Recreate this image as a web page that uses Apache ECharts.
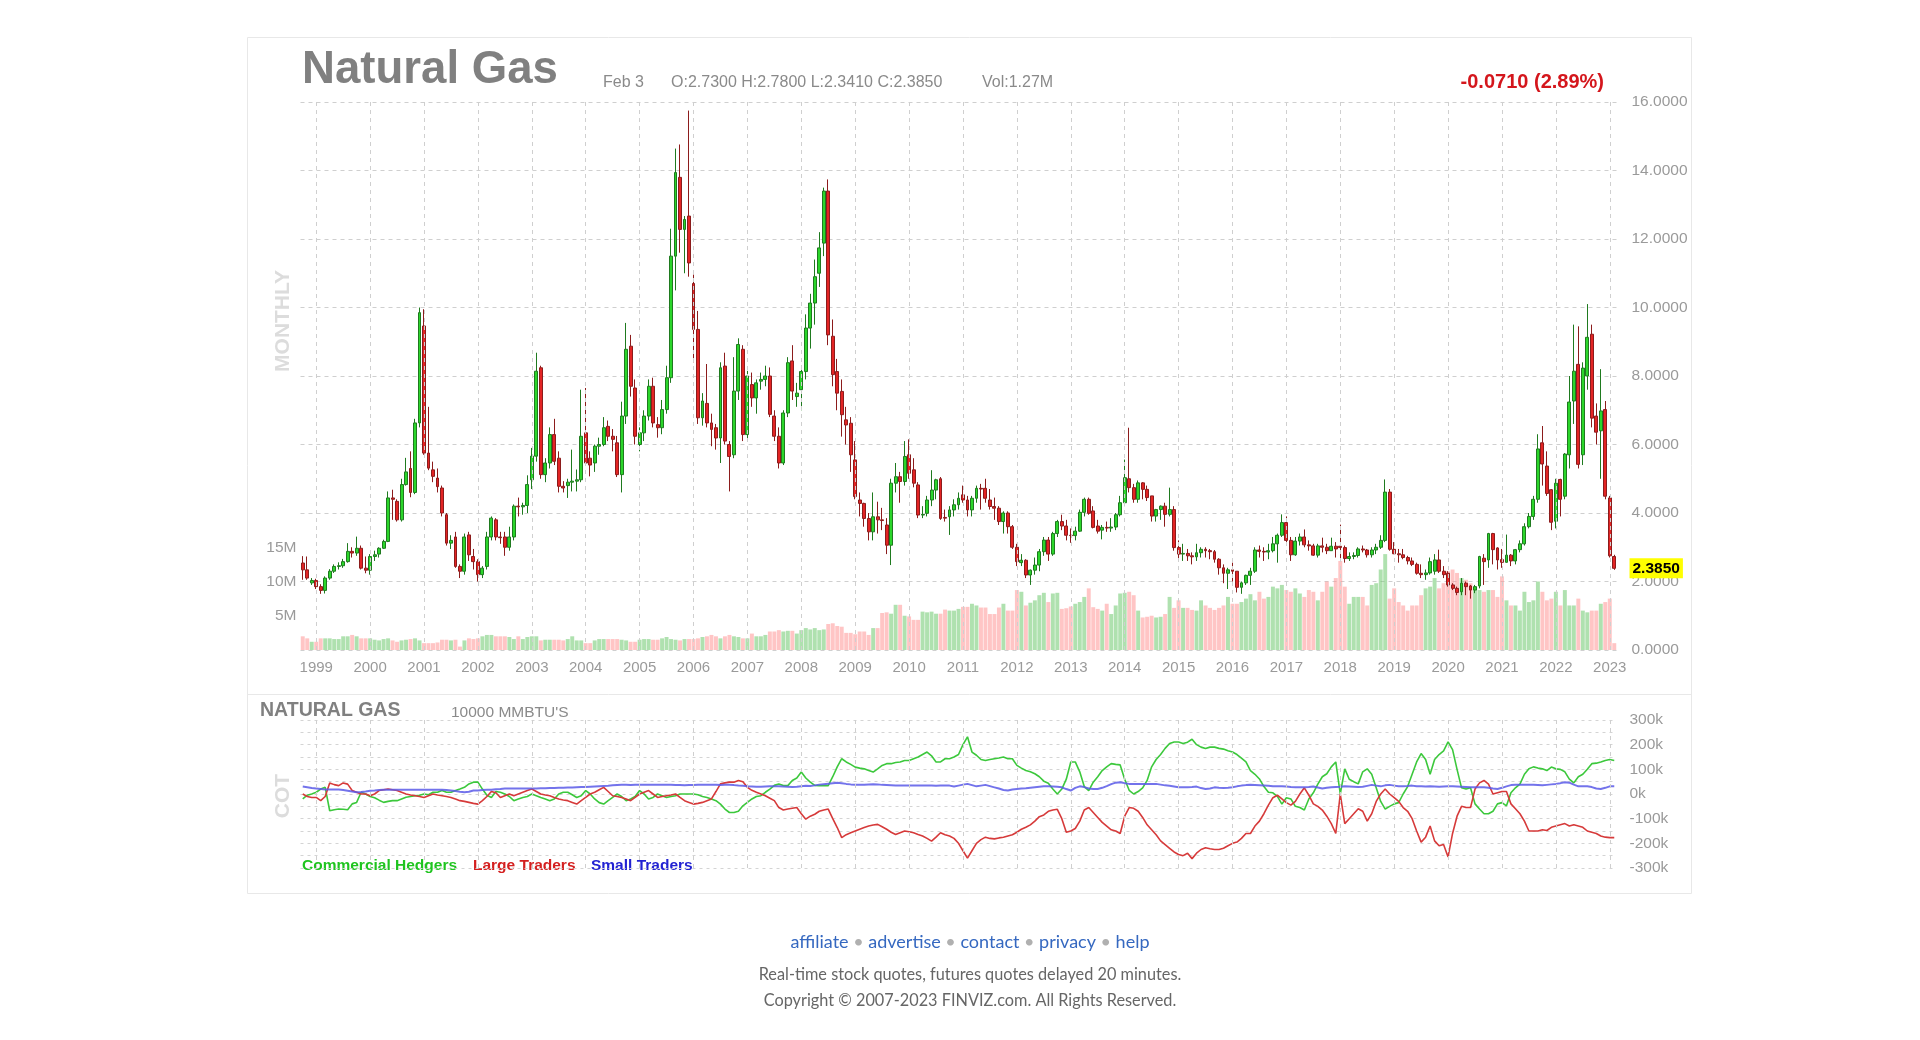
<!DOCTYPE html>
<html>
<head>
<meta charset="utf-8">
<script src="https://cdn.jsdelivr.net/npm/echarts@6/dist/echarts.min.js"></script>
<style>
html,body{margin:0;padding:0;background:#fff;}
#c{width:1920px;height:1040px;}
</style>
</head>
<body>
<div id="c"></div>
<script>
// ---------- DATA ----------
// monthly candles Oct 1998 .. Feb 2023 : [open, close, low, high]
const ohlc = [
// 1998 Oct-Dec
[2.54,2.34,2.05,2.74],[2.34,2.10,2.05,2.73],[1.96,2.03,1.90,2.10],
// 1999
[2.03,1.85,1.78,2.08],[1.85,1.74,1.64,1.92],[1.74,2.10,1.65,2.15],[2.10,2.30,2.05,2.36],[2.30,2.44,2.25,2.50],[2.44,2.46,2.35,2.56],
[2.46,2.58,2.40,2.66],[2.58,2.88,2.55,3.12],[2.88,2.83,2.70,3.00],[2.83,2.97,2.75,3.31],[2.97,2.39,2.35,3.05],[2.39,2.33,2.24,2.73],
// 2000
[2.33,2.73,2.20,2.80],[2.73,2.78,2.60,2.90],[2.80,2.97,2.70,3.00],[2.97,3.17,2.95,3.22],[3.17,4.44,3.15,4.63],[4.44,4.40,3.80,4.68],
[4.34,3.80,3.75,4.40],[3.80,4.83,3.75,5.00],[4.83,5.20,4.80,5.61],[5.30,4.60,4.46,5.80],[4.60,6.63,4.55,6.75],[6.63,9.85,6.50,10.00],
// 2001
[9.46,5.75,5.70,9.95],[5.75,5.31,5.25,7.10],[5.26,5.07,4.90,5.50],[5.02,4.77,4.60,5.30],[4.73,4.00,3.90,4.80],[3.95,3.12,3.05,4.00],
[3.12,3.20,2.95,3.35],[3.30,2.44,2.40,3.45],[2.44,2.30,2.10,2.50],[2.30,3.30,2.20,3.40],[3.36,2.78,2.60,3.45],[2.73,2.58,2.35,2.95],
// 2002
[2.58,2.20,2.00,2.65],[2.20,2.39,2.10,2.45],[2.44,3.30,2.35,3.45],[3.30,3.85,3.20,3.90],[3.80,3.30,3.20,3.85],[3.30,3.28,3.10,3.45],
[3.30,3.00,2.75,3.45],[3.00,3.30,2.90,3.60],[3.30,4.20,3.20,4.25],[4.20,4.18,3.90,4.45],[4.18,4.22,3.95,4.30],[4.22,4.83,4.00,5.10],
// 2003
[4.97,5.66,4.70,5.90],[5.66,8.14,5.50,8.68],[8.24,5.12,5.00,8.30],[5.12,5.46,4.90,5.60],[5.46,6.29,5.30,6.50],[6.29,5.51,5.40,6.75],
[5.60,4.78,4.60,5.80],[4.78,4.73,4.60,4.93],[4.80,4.90,4.44,5.00],[4.90,4.93,4.63,5.85],[4.93,4.97,4.63,5.27],[4.97,6.24,4.90,7.60],
// 2004
[6.34,5.46,5.40,7.65],[5.60,5.40,5.07,5.80],[5.46,5.95,5.20,6.00],[5.95,6.00,5.70,6.20],[6.00,6.49,5.95,6.80],[6.53,6.24,6.10,6.70],
[6.24,6.15,5.80,6.45],[6.05,5.12,5.05,6.25],[5.12,6.83,4.60,7.25],[6.83,8.78,6.60,9.55],[8.87,7.70,7.40,9.20],[7.65,6.24,6.00,7.90],
// 2005
[6.00,6.34,5.80,6.50],[6.34,6.83,6.10,7.00],[6.83,7.70,6.70,7.90],[7.70,6.63,6.50,7.95],[6.58,6.49,6.20,6.80],[6.49,7.02,6.30,7.30],
[7.02,7.95,6.90,8.30],[7.95,11.50,7.80,12.30],[11.50,13.94,10.50,14.64],[13.80,12.28,11.60,14.76],[12.28,12.57,11.00,12.67],[12.67,11.30,10.90,15.75],
// 2006
[10.70,9.36,8.40,10.96],[9.36,6.78,6.60,9.90],[6.78,7.27,6.55,7.50],[7.20,6.63,6.50,8.35],[6.63,6.44,5.95,6.90],[6.49,6.19,5.85,6.60],
[6.19,8.24,5.46,8.40],[8.29,6.10,6.00,8.68],[6.00,5.65,4.63,6.10],[5.70,7.56,5.60,8.55],[7.56,8.92,7.30,9.10],[8.78,6.29,6.10,8.90],
// 2007
[6.29,8.00,6.10,8.15],[7.75,7.36,7.10,8.10],[7.36,7.80,6.90,7.90],[7.85,7.90,7.60,8.10],[7.90,8.00,7.70,8.30],[8.00,6.88,6.80,8.25],
[6.83,6.24,6.10,7.00],[6.24,5.46,5.30,6.50],[5.46,6.92,5.40,7.00],[6.92,8.39,6.80,8.55],[8.44,7.56,7.30,8.90],[7.40,7.50,7.10,7.80],
// 2008
[7.60,8.13,7.00,8.30],[8.13,9.40,7.90,9.80],[9.40,10.13,8.80,10.40],[10.13,10.90,9.50,11.40],[11.00,11.74,10.60,12.20],[11.88,13.40,11.50,13.50],
[13.40,9.20,8.90,13.74],[9.16,8.04,7.70,9.65],[8.13,7.50,7.00,8.50],[7.55,6.87,6.23,7.90],[6.72,6.57,6.00,7.10],[6.62,5.70,5.20,6.80],
// 2009
[5.55,4.48,4.40,6.10],[4.38,4.28,3.90,4.60],[4.28,3.84,3.60,4.30],[3.84,3.45,3.20,4.00],[3.45,3.89,3.20,4.60],[3.89,3.80,3.40,4.33],
[3.80,3.78,3.50,4.15],[3.65,3.06,2.80,3.85],[3.06,4.87,2.48,5.00],[4.87,5.06,4.60,5.46],[5.06,4.92,4.30,5.20],[4.92,5.65,4.80,6.10],
// 2010
[5.70,5.16,5.00,6.15],[5.26,4.87,4.75,5.60],[4.82,3.94,3.85,4.90],[3.94,3.96,3.85,4.20],[3.99,4.38,3.90,4.50],[4.38,4.67,4.20,5.25],
[4.67,4.97,4.40,5.00],[5.00,3.84,3.80,5.05],[3.87,3.85,3.75,4.10],[3.89,4.09,3.36,4.20],[4.09,4.24,3.90,4.40],[4.24,4.43,4.10,4.60],
// 2011
[4.53,4.38,4.30,4.80],[4.38,4.09,3.90,4.50],[4.09,4.43,3.90,4.50],[4.43,4.72,4.30,4.80],[4.72,4.70,4.10,4.85],[4.72,4.43,4.30,5.00],
[4.38,4.19,4.10,4.70],[4.19,4.14,3.80,4.45],[4.14,3.75,3.65,4.20],[3.75,4.00,3.40,4.05],[4.00,3.60,3.40,4.05],[3.60,3.00,2.95,3.65],
// 2012
[3.00,2.58,2.45,3.10],[2.55,2.62,2.45,2.80],[2.62,2.19,2.10,2.65],[2.19,2.33,1.90,2.35],[2.33,2.48,2.20,2.70],[2.48,2.87,2.30,2.95],
[2.87,3.21,2.75,3.30],[3.21,2.80,2.60,3.30],[2.80,3.40,2.75,3.45],[3.40,3.75,3.30,3.80],[3.75,3.62,3.50,3.95],[3.62,3.35,3.20,3.80],
// 2013
[3.35,3.34,3.13,3.55],[3.34,3.47,3.20,3.60],[3.47,4.02,3.45,4.10],[4.02,4.40,3.90,4.45],[4.40,3.99,3.95,4.45],[4.06,3.58,3.55,4.20],
[3.62,3.47,3.40,3.80],[3.50,3.58,3.23,3.65],[3.58,3.56,3.45,3.75],[3.56,3.59,3.45,3.85],[3.59,3.95,3.50,4.00],[3.95,4.30,3.90,4.50],
// 2014
[4.30,5.03,4.20,5.56],[5.00,4.74,4.60,6.49],[4.74,4.40,4.30,4.85],[4.40,4.88,4.30,4.95],[4.88,4.69,4.40,4.90],[4.69,4.45,4.35,4.80],
[4.50,3.91,3.75,4.50],[3.91,4.10,3.75,4.12],[4.10,4.20,3.80,4.22],[4.20,3.96,3.60,4.30],[3.96,4.10,3.90,4.74],[4.10,2.99,2.90,4.20],
// 2015
[2.99,2.80,2.60,3.20],[2.80,2.82,2.60,3.10],[2.82,2.75,2.60,2.95],[2.75,2.72,2.50,2.85],[2.72,2.84,2.60,3.10],[2.84,2.94,2.70,3.00],
[2.94,2.90,2.70,3.00],[2.90,2.87,2.65,2.95],[2.87,2.65,2.55,2.92],[2.65,2.40,2.20,2.68],[2.40,2.24,1.95,2.50],[2.24,2.34,1.78,2.40],
// 2016
[2.34,2.30,2.00,2.55],[2.30,1.83,1.68,2.30],[1.83,1.96,1.64,2.00],[1.96,2.18,1.90,2.20],[2.18,2.30,1.90,2.40],[2.30,2.92,2.25,3.00],
[2.92,2.88,2.70,3.05],[2.88,2.86,2.60,3.00],[2.86,2.90,2.65,3.10],[2.90,3.10,2.85,3.30],[3.10,3.35,2.55,3.40],[3.35,3.72,3.30,3.96],
// 2017
[3.72,3.20,3.15,3.90],[3.20,2.78,2.60,3.30],[2.78,3.18,2.75,3.30],[3.18,3.30,3.05,3.40],[3.30,3.07,3.00,3.52],[3.07,3.04,2.90,3.20],
[3.04,2.77,2.75,3.10],[2.77,3.04,2.70,3.10],[3.04,3.00,2.85,3.28],[3.00,2.90,2.80,3.10],[2.90,3.03,2.90,3.28],[3.03,2.95,2.70,3.15],
// 2018
[3.03,2.99,2.60,3.66],[2.99,2.67,2.55,3.05],[2.67,2.73,2.60,2.85],[2.73,2.76,2.65,2.85],[2.76,2.95,2.70,3.00],[2.95,2.92,2.85,3.05],
[2.92,2.78,2.70,2.95],[2.78,2.92,2.70,3.00],[2.92,3.00,2.80,3.10],[3.00,3.20,2.95,3.35],[3.20,4.61,3.15,4.98],[4.61,2.94,2.90,4.70],
// 2019
[2.94,2.81,2.80,3.15],[2.81,2.78,2.55,2.95],[2.78,2.70,2.65,2.95],[2.70,2.60,2.50,2.75],[2.60,2.50,2.45,2.70],[2.50,2.24,2.20,2.55],
[2.24,2.20,2.10,2.50],[2.20,2.25,2.05,2.35],[2.25,2.58,2.20,2.70],[2.30,2.63,2.20,2.80],[2.63,2.30,2.25,2.93],[2.30,2.20,2.10,2.45],
// 2020
[2.24,1.90,1.85,2.30],[1.90,1.80,1.75,1.95],[1.80,1.68,1.60,1.85],[1.70,1.95,1.60,2.10],[1.95,1.85,1.60,2.00],[1.87,1.75,1.50,1.90],
[1.75,1.85,1.66,1.90],[1.87,2.73,1.80,2.75],[2.68,2.58,1.90,2.80],[2.63,3.40,2.40,3.42],[3.40,2.93,2.50,3.42],[2.98,2.63,2.35,3.00],
// 2021
[2.64,2.56,2.40,2.95],[2.56,2.77,2.55,3.37],[2.77,2.60,2.45,2.80],[2.60,2.93,2.50,2.95],[2.93,3.10,2.85,3.20],[3.10,3.60,3.05,3.70],
[3.60,3.90,3.55,4.00],[3.90,4.40,3.80,4.50],[4.40,5.87,4.30,6.30],[6.05,5.43,4.80,6.54],[5.37,4.57,4.50,5.80],[4.68,3.73,3.50,4.70],
// 2022
[3.76,4.87,3.55,5.00],[4.98,4.40,3.90,5.00],[4.49,5.72,4.40,5.75],[5.70,7.24,5.30,8.00],[7.27,8.14,6.60,9.50],[8.34,5.42,5.30,9.45],
[5.70,8.23,5.40,8.40],[8.00,9.13,7.60,10.10],[9.22,6.77,6.50,9.50],[6.83,6.36,6.00,7.20],[6.40,6.98,5.00,8.20],[7.02,4.49,4.40,7.27],
// 2023 Jan-Feb
[4.44,2.75,2.70,4.50],[2.73,2.385,2.341,2.78]
];

// monthly volume, millions of contracts
const volume = [
2.0,1.7,1.2,
1.2,1.7,1.7,1.7,1.6,1.6,2.0,2.0,2.2,2.0,1.7,1.7,
1.7,1.5,1.4,1.6,1.7,1.4,1.2,1.4,1.5,1.6,1.7,1.4,
1.0,1.0,1.0,1.1,1.5,1.5,1.4,1.5,0.5,1.4,1.7,1.6,
1.7,2.0,2.2,2.2,2.0,2.0,2.0,1.9,1.6,2.0,1.6,1.9,
2.0,2.0,1.4,1.5,1.5,1.5,1.5,1.4,1.6,2.0,1.4,1.4,
1.0,1.0,1.4,1.6,1.6,1.6,1.6,1.6,1.5,1.4,1.2,1.2,
1.5,1.6,1.6,1.5,1.5,1.7,1.9,1.6,1.5,1.4,1.6,1.6,
1.6,1.7,1.9,2.0,2.2,2.0,1.7,2.0,2.2,2.0,1.9,1.7,
1.7,2.4,2.0,2.0,2.2,2.7,2.7,2.9,2.7,2.8,2.8,2.4,
2.9,3.2,3.0,3.2,2.9,3.0,3.8,3.9,3.5,3.4,2.5,2.5,
2.3,2.7,2.7,2.2,3.2,3.2,5.4,5.5,5.3,6.6,6.6,5.0,
4.9,4.4,4.4,5.6,5.5,5.6,5.3,5.3,5.9,5.75,5.75,6.0,
6.3,6.3,6.75,6.5,6.2,6.2,5.25,5.25,6.2,6.75,5.75,5.75,
8.75,8.5,6.5,6.9,7.25,8.0,8.35,7.0,8.25,8.35,6.0,6.1,
6.35,6.75,7.0,7.75,9.0,6.25,6.0,5.75,6.75,5.25,6.5,8.25,
8.35,8.5,8.0,5.75,4.75,4.85,5.0,4.75,4.85,5.25,7.75,6.15,
7.25,6.15,6.15,5.85,5.75,7.25,6.5,6.15,5.85,6.15,6.5,7.75,
6.75,6.75,7.0,7.5,8.15,7.25,8.5,7.5,7.75,9.25,9.0,9.5,
8.75,8.5,9.0,8.25,7.75,8.75,8.5,7.25,8.5,10.0,9.25,10.5,
13.0,9.25,6.75,7.75,7.75,7.75,6.5,9.5,9.75,11.75,14.0,7.5,
9.0,7.0,6.5,5.75,6.5,6.5,8.0,9.0,9.25,10.5,9.0,9.75,
11.5,11.75,11.25,10.5,10.25,9.75,9.0,8.75,8.5,8.75,8.75,7.75,
10.75,7.25,6.5,6.5,5.75,8.5,7.0,7.25,10.0,8.5,7.25,7.5,
8.5,6.5,8.75,6.5,6.5,7.5,5.75,5.5,5.75,5.75,6.75,7.0,
7.5,1.0
];

// COT net positions, thousands of contracts (10000 MMBTU's)
const commercialHedgers = [
-20,-5,0,
7,20,27,-68,-64,-61,-62,-64,-40,-34,7,0,
-10,-15,-25,-34,-30,-27,-27,-20,-13,-10,-7,-5,
0,-3,7,7,14,7,7,14,20,27,41,48,
48,20,-5,-14,10,7,0,-10,-27,-20,-14,-10,
0,-7,-14,-20,-27,-20,0,7,7,-3,-14,-7,
14,0,-20,-35,-41,-27,-14,0,-10,-27,-20,-10,
14,0,-20,-14,0,-7,-14,-10,-7,0,0,0,
0,-3,-10,-14,-20,-27,-41,-61,-75,-75,-70,-48,
-34,-20,-10,-7,7,20,35,41,34,34,55,65,
89,65,48,35,34,34,34,70,110,143,130,120,
109,105,102,95,89,102,116,123,123,128,130,136,
136,143,150,160,170,155,130,130,143,143,150,160,
200,232,170,157,140,136,140,143,146,150,143,143,
116,105,95,90,82,70,52,44,20,0,20,60,
130,130,90,30,14,48,70,95,110,123,120,118,
60,15,0,10,25,55,110,140,160,185,205,211,
211,205,210,222,200,190,184,190,190,185,182,175,
170,160,145,130,95,80,61,30,7,5,-10,-41,
-15,-20,-50,-55,-65,-20,5,40,70,82,110,130,
0,102,60,50,41,90,102,80,25,-30,-61,-50,
-40,-35,0,30,80,130,164,140,80,140,160,175,
211,180,100,25,20,25,-40,-61,-80,-80,-70,-40,
-35,-48,5,25,40,80,102,110,105,102,95,109,
102,100,90,60,45,70,80,100,123,125,130,136,
140,136
];
const largeTraders = [
0,-10,-14,
-14,-27,-10,45,38,34,45,40,14,7,0,0,
-7,0,14,17,20,17,14,7,0,-4,-7,-10,
-14,-7,0,-4,-7,-10,-14,-20,-27,-30,-34,-38,
-41,-27,-10,10,5,-14,-7,0,-7,0,7,14,
20,10,0,-4,-7,-14,-20,-24,-27,-34,-41,-27,
-14,0,7,17,27,10,-7,-10,-14,-20,-27,-14,
0,7,14,0,-14,-10,-7,-4,0,-14,-27,-34,
-41,-38,-34,-27,-20,10,41,45,48,48,55,50,
27,15,7,0,-7,-17,-27,-55,-65,-61,-58,-55,
-80,-102,-90,-82,-70,-65,-61,-100,-136,-177,-165,-157,
-150,-143,-136,-130,-126,-123,-133,-143,-155,-164,-157,-150,
-153,-157,-164,-170,-180,-191,-175,-157,-165,-170,-180,-200,
-230,-260,-230,-200,-185,-175,-180,-182,-178,-175,-170,-165,
-155,-143,-135,-125,-110,-92,-85,-70,-65,-62,-100,-155,
-150,-140,-110,-65,-55,-75,-95,-115,-130,-145,-150,-160,
-90,-55,-58,-70,-95,-125,-145,-165,-190,-205,-220,-235,
-245,-250,-240,-262,-240,-225,-218,-222,-225,-225,-220,-210,
-200,-195,-180,-160,-160,-130,-110,-80,-45,-15,-5,-20,
-35,-45,-30,0,25,-5,-40,-50,-65,-90,-120,-160,
0,-120,-100,-80,-60,-70,-110,-80,-30,0,20,0,
-15,-30,-55,-70,-100,-150,-195,-175,-130,-190,-210,-205,
-255,-160,-90,-50,-55,-55,20,45,55,40,0,5,
10,10,-40,-60,-80,-110,-150,-150,-150,-145,-148,-135,
-130,-125,-120,-130,-125,-130,-135,-150,-155,-160,-170,-175,
-177,-177
];
const smallTraders = [
30,27,24,
22,20,18,18,18,18,16,13,10,7,8,10,
13,14,16,17,17,17,17,17,17,17,17,17,
17,17,17,17,17,16,14,12,9,7,9,14,
14,16,17,17,19,20,22,22,22,22,22,22,
22,22,23,23,24,24,25,25,26,26,27,28,
28,29,30,31,32,33,35,36,37,37,36,37,
37,37,37,37,37,37,37,37,36,36,35,36,
36,37,37,37,37,37,36,37,37,36,34,33,
31,30,29,29,30,31,31,31,30,29,28,29,
31,33,32,35,38,40,42,44,46,44,41,39,
38,37,38,39,40,39,37,36,35,34,34,34,
34,34,34,34,34,34,33,34,34,34,30,34,
38,41,36,31,34,37,32,27,22,16,14,18,
20,22,23,25,27,29,31,31,30,29,27,20,
14,25,31,28,22,20,20,25,32,40,46,48,
44,41,41,41,41,41,41,41,38,35,33,30,
27,27,27,28,30,24,20,22,27,25,24,25,
27,31,34,36,37,36,35,34,33,31,31,31,
30,28,27,27,27,28,30,26,22,25,27,28,
29,31,30,29,28,29,33,37,34,31,35,37,
34,31,31,32,34,31,31,30,31,30,29,30,
31,31,30,29,28,27,27,27,27,25,22,20,
25,31,36,37,37,37,37,37,36,35,37,39,
41,44,48,46,38,31,31,31,28,22,20,25,
31,31
];

// tick labels
const yearTicks = ['1999','2000','2001','2002','2003','2004','2005','2006','2007','2008','2009','2010',
  '2011','2012','2013','2014','2015','2016','2017','2018','2019','2020','2021','2022','2023'];
const volumeTicks = [5,10,15];

// categories: monthly, Oct 1998 .. Feb 2023
const months = [];
for (let y = 1998, m = 10; y < 2023 || (y === 2023 && m <= 2); m++) {
  if (m > 12) { m = 1; y++; if (y === 2023 && m > 2) break; }
  months.push(y + '-' + String(m).padStart(2, '0'));
}

// ---------- STYLE ----------
const UP = '#2bd62b', UP_B = '#1f7a1f', DN = '#e32424', DN_B = '#8c1c1c';
const VOL_UP = 'rgba(110,200,110,0.55)', VOL_DN = 'rgba(255,150,150,0.55)';
const AXIS_TXT = '#9a9a9a';
const FONT = 'Liberation Sans, Arial, sans-serif';
const L = 300.5, W = 1316;

const chart = echarts.init(document.getElementById('c'), null, {renderer: 'canvas'});

const yearLines = {
  silent: true, symbol: ['none', 'none'], animation: false,
  label: {show: false},
  lineStyle: {color: '#cfcfcf', type: [4, 4], width: 1},
  data: yearTicks.map(y => ({xAxis: y + '-01'}))
};

const lastClose = ohlc[ohlc.length - 1][1];

chart.setOption({
  animation: false,
  backgroundColor: '#fff',
  grid: [
    {left: L, width: W, top: 102, height: 548},
    {left: L, width: W, top: 720, height: 148}
  ],
  xAxis: [
    {type: 'category', data: months, gridIndex: 0, boundaryGap: true,
     axisLine: {show: false}, axisTick: {show: false}, splitLine: {show: false},
     axisLabel: {interval: (i, v) => v.endsWith('-01'), formatter: v => v.slice(0, 4),
       color: AXIS_TXT, fontSize: 15, fontFamily: FONT, margin: 10}},
    {type: 'category', data: months, gridIndex: 1, boundaryGap: true,
     axisLine: {show: false}, axisTick: {show: false}, splitLine: {show: false}, axisLabel: {show: false}}
  ],
  yAxis: [
    {type: 'value', gridIndex: 0, position: 'right', min: 0, max: 16, interval: 2,
     axisLine: {show: false}, axisTick: {show: false},
     axisLabel: {formatter: v => v.toFixed(4), color: AXIS_TXT, fontSize: 15.5, fontFamily: FONT, margin: 15},
     splitLine: {lineStyle: {color: '#cfcfcf', type: [4, 4], width: 1}}},
    {type: 'value', gridIndex: 0, position: 'left', min: 0, max: 80, interval: 5,
     axisLine: {show: false}, axisTick: {show: false}, splitLine: {show: false},
     axisLabel: {formatter: v => volumeTicks.includes(v) ? v + 'M' : '', color: AXIS_TXT, fontSize: 15.5, fontFamily: FONT, margin: 4}},
    {type: 'value', gridIndex: 1, position: 'right', min: -300, max: 300, interval: 50,
     axisLine: {show: false}, axisTick: {show: false},
     axisLabel: {formatter: v => (v % 100 === 0) ? v + 'k' : '', color: AXIS_TXT, fontSize: 15.5, fontFamily: FONT, margin: 13},
     splitLine: {lineStyle: {color: '#d4d4d4', type: [3, 4], width: 1}}}
  ],
  series: [
    {type: 'bar', name: 'Volume', xAxisIndex: 0, yAxisIndex: 1, z: 1,
     barCategoryGap: '12%',
     data: volume.map((v, i) => ({value: v, itemStyle: {color: ohlc[i][1] >= ohlc[i][0] ? VOL_UP : VOL_DN}})),
     markLine: yearLines},
    {type: 'candlestick', name: 'Natural Gas', xAxisIndex: 0, yAxisIndex: 0, z: 3,
     barWidth: 3.4,
     data: ohlc,
     itemStyle: {color: UP, color0: DN, borderColor: UP_B, borderColor0: DN_B, borderWidth: 1}},
    {type: 'line', name: 'Last', xAxisIndex: 0, yAxisIndex: 0, z: 5, silent: true,
     data: [], showSymbol: false,
     markLine: {silent: true, symbol: ['none', 'none'], animation: false, z: 5, precision: 4,
       lineStyle: {color: 'rgba(255,255,255,0)', width: 0.01},
       label: {show: true, position: 'end', distance: 13, formatter: () => lastClose.toFixed(4),
         backgroundColor: '#ffff00', color: '#000', fontWeight: 'bold', fontSize: 15.5, fontFamily: FONT, padding: [2, 3, 2, 3]},
       data: [{yAxis: lastClose}]}},
    {type: 'line', name: 'Commercial Hedgers', xAxisIndex: 1, yAxisIndex: 2, showSymbol: false, z: 3,
     data: commercialHedgers, lineStyle: {color: '#3cc83c', width: 1.6}, itemStyle: {color: '#3cc83c'},
     markLine: yearLines},
    {type: 'line', name: 'Large Traders', xAxisIndex: 1, yAxisIndex: 2, showSymbol: false, z: 3,
     data: largeTraders, lineStyle: {color: '#d63a3a', width: 1.6}, itemStyle: {color: '#d63a3a'}},
    {type: 'line', name: 'Small Traders', xAxisIndex: 1, yAxisIndex: 2, showSymbol: false, z: 3,
     data: smallTraders, lineStyle: {color: '#5b5be8', width: 2, opacity: 0.85}, itemStyle: {color: '#5b5be8'}}
  ],
  graphic: [
    {type: 'rect', silent: true, z: -1, shape: {x: 247.5, y: 37.5, width: 1444, height: 856},
     style: {fill: 'none', stroke: '#e8e8e8', lineWidth: 1}},
    {type: 'line', silent: true, shape: {x1: 248, y1: 694.5, x2: 1691, y2: 694.5},
     style: {stroke: '#e8e8e8', lineWidth: 1}},
    {type: 'text', x: 302, y: 70, scaleX: 0.97,
     style: {text: 'Natural Gas', fill: '#808080', fontSize: 47, fontWeight: 'bold', fontFamily: FONT, verticalAlign: 'middle'}},
    {type: 'text', x: 603, y: 82.5,
     style: {text: 'Feb 3', fill: '#8a8a8a', fontSize: 16, fontFamily: FONT, verticalAlign: 'middle'}},
    {type: 'text', x: 671, y: 82.5,
     style: {text: 'O:2.7300 H:2.7800 L:2.3410 C:2.3850', fill: '#8a8a8a', fontSize: 16, fontFamily: FONT, verticalAlign: 'middle'}},
    {type: 'text', x: 982, y: 82.5,
     style: {text: 'Vol:1.27M', fill: '#8a8a8a', fontSize: 16, fontFamily: FONT, verticalAlign: 'middle'}},
    {type: 'text', x: 1604, y: 82,
     style: {text: '-0.0710 (2.89%)', fill: '#d4161c', fontSize: 20, fontWeight: 'bold', fontFamily: FONT, align: 'right', verticalAlign: 'middle'}},
    {type: 'text', x: 283, y: 321, rotation: Math.PI / 2,
     style: {text: 'MONTHLY', fill: '#dcdcdc', fontSize: 21, fontWeight: 'bold', fontFamily: FONT, align: 'center', verticalAlign: 'middle'}},
    {type: 'text', x: 260, y: 710.5,
     style: {text: 'NATURAL GAS', fill: '#808080', fontSize: 19.5, fontWeight: 'bold', fontFamily: FONT, verticalAlign: 'middle'}},
    {type: 'text', x: 451, y: 712.5,
     style: {text: "10000 MMBTU'S", fill: '#8a8a8a', fontSize: 15.5, fontFamily: FONT, verticalAlign: 'middle'}},
    {type: 'text', x: 283, y: 796, rotation: Math.PI / 2,
     style: {text: 'COT', fill: '#dcdcdc', fontSize: 21, fontWeight: 'bold', fontFamily: FONT, align: 'center', verticalAlign: 'middle'}},
    {type: 'text', x: 302, y: 866,
     style: {text: 'Commercial Hedgers', fill: '#1fc41f', fontSize: 15.5, fontWeight: 'bold', fontFamily: FONT, verticalAlign: 'middle'}},
    {type: 'text', x: 473, y: 866,
     style: {text: 'Large Traders', fill: '#d42020', fontSize: 15.5, fontWeight: 'bold', fontFamily: FONT, verticalAlign: 'middle'}},
    {type: 'text', x: 591, y: 866,
     style: {text: 'Small Traders', fill: '#2222d2', fontSize: 15.5, fontWeight: 'bold', fontFamily: FONT, verticalAlign: 'middle'}},
    {type: 'text', x: 970, y: 942,
     style: {text: '{a|affiliate}{s| • }{a|advertise}{s| • }{a|contact}{s| • }{a|privacy}{s| • }{a|help}',
       align: 'center', verticalAlign: 'middle',
       rich: {a: {fill: '#3568c0', fontSize: 18, fontFamily: 'Lato'}, s: {fill: '#b0b0b0', fontSize: 18, fontFamily: 'Lato'}}}},
    {type: 'text', x: 970, y: 975,
     style: {text: 'Real-time stock quotes, futures quotes delayed 20 minutes.', fill: '#666', fontSize: 16.3, fontFamily: 'Lato',
       align: 'center', verticalAlign: 'middle'}},
    {type: 'text', x: 970, y: 1000.5,
     style: {text: 'Copyright © 2007-2023 FINVIZ.com. All Rights Reserved.', fill: '#666', fontSize: 16.3, fontFamily: 'Lato',
       align: 'center', verticalAlign: 'middle'}}
  ]
});
</script>
</body>
</html>
